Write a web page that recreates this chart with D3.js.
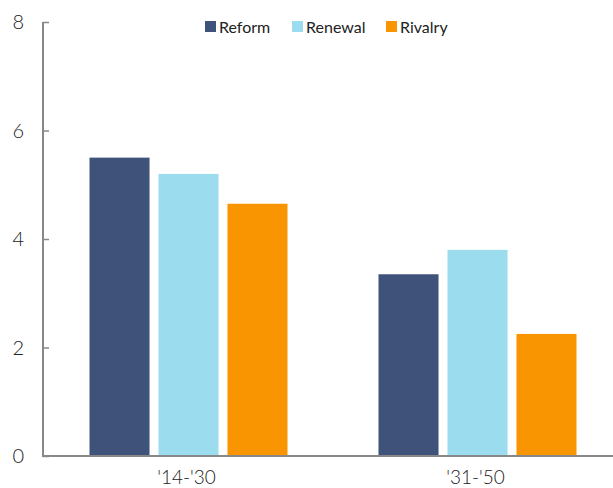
<!DOCTYPE html>
<html><head><meta charset="utf-8">
<script src="https://cdn.jsdelivr.net/npm/d3@7"></script>
<style>body{margin:0;background:#fff}svg{display:block}</style>
</head><body>
<script>
const categories = ["'14-'30", "'31-'50"];
const seriesNames = ["Reform", "Renewal", "Rivalry"];
const reform = [5.5, 3.35];
const renewal = [5.2, 3.8];
const rivalry = [4.65, 2.25];
const yTicks = [0, 2, 4, 6, 8];
const colors = ["#3F527A", "#9BDCEE", "#F99500"];

const W = 613, H = 488;
const svg = d3.select("body").append("svg").attr("width", W).attr("height", H);
const x0 = 43, yTop = 22, yBot = 456;
const y = d3.scaleLinear().domain([0, 8]).range([yBot, yTop]);
const xg = d3.scaleBand().domain(categories).range([x0, 621]).paddingInner(0).paddingOuter(0);
const xs = d3.scaleBand().domain(seriesNames).range([0, 198]).paddingInner(0.13).paddingOuter(0);

const series = [reform, renewal, rivalry];
seriesNames.forEach((s, i) => {
  svg.append("g").selectAll("rect").data(series[i]).join("rect")
    .attr("x", (d, j) => xg(categories[j]) + xg.bandwidth() / 2 - 99 + xs(s) + 1)
    .attr("width", xs.bandwidth())
    .attr("y", d => y(d))
    .attr("height", d => yBot - y(d))
    .attr("fill", colors[i]);
});

const font = "Lato, 'Open Sans', sans-serif";
// y axis
const ya = svg.append("g").attr("transform", `translate(${x0},0)`)
  .call(d3.axisRight(y).tickValues(yTicks).tickSize(6).tickFormat(""));
ya.select(".domain").remove();
ya.selectAll("line").attr("stroke", "#888").attr("stroke-width", 1.5);
svg.append("line").attr("x1", x0).attr("x2", x0).attr("y1", yTop).attr("y2", yBot)
  .attr("stroke", "#888").attr("stroke-width", 2);
svg.append("line").attr("x1", x0 - 1).attr("x2", W).attr("y1", yBot).attr("y2", yBot)
  .attr("stroke", "#888").attr("stroke-width", 2);
svg.append("g").selectAll("text").data(yTicks).join("text")
  .attr("x", 24).attr("y", d => y(d)).attr("dy", "0.35em")
  .attr("text-anchor", "end").attr("font-family", font).attr("font-weight", 300)
  .attr("font-size", 20).attr("fill", "#222").text(d => d);

// x labels
svg.append("g").selectAll("text").data(categories).join("text")
  .attr("x", d => xg(d) + xg.bandwidth() / 2 - 1).attr("y", 484)
  .attr("text-anchor", "middle").attr("font-family", font).attr("font-weight", 300)
  .attr("font-size", 19).attr("fill", "#222").text(d => d);

// legend
const legX = [205, 292, 386];
const lg = svg.append("g");
seriesNames.forEach((s, i) => {
  lg.append("rect").attr("x", legX[i]).attr("y", 21).attr("width", 11).attr("height", 11).attr("fill", colors[i]);
  lg.append("text").attr("x", legX[i] + 14).attr("y", 27).attr("dy", "0.35em")
    .attr("font-family", font).attr("font-size", 16).attr("fill", "#222").text(s);
});
</script>
</body></html>
